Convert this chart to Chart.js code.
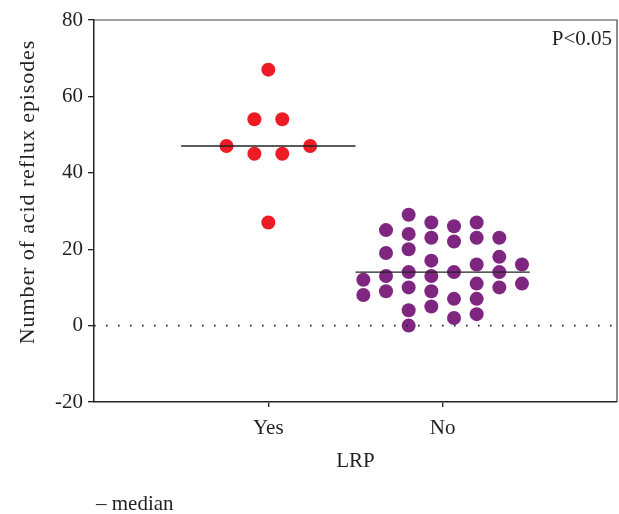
<!DOCTYPE html>
<html><head><meta charset="utf-8">
<script src="https://cdn.jsdelivr.net/npm/chart.js@4.4.0/dist/chart.umd.min.js"></script>
<style>html,body{margin:0;padding:0;background:#fff}#wrap{width:619px;height:514px}</style>
</head><body><div id="wrap"><canvas id="c" width="619" height="514"></canvas></div>
<script>
// ---- data ----
const categories = ['Yes', 'No'];
// values grouped into the swarm columns as they appear (left to right)
const yesColumns = [[47], [54, 45], [67, 27], [54, 45], [47]];
const noColumns = [[12, 8], [25, 19, 13, 9], [29, 24, 20, 14, 10, 4, 0], [27, 23, 17, 13, 9, 5],
                   [26, 22, 14, 7, 2], [27, 23, 16, 11, 7, 3], [23, 18, 14, 10], [16, 11]];
const medians = [47, 14];
const yTicks = [-20, 0, 20, 40, 60, 80];
const xTitle = 'LRP';
const yTitle = 'Number of acid reflux episodes';
const pText = 'P<0.05';
const legendText = '– median';

// ---- layout helpers (column offsets in x-axis units) ----
const yesOffsets = [-0.24, -0.08, 0, 0.08, 0.24];
const noStep = 0.13;
function swarm(cols, center, offsets) {
  const pts = [];
  cols.forEach((col, i) => col.forEach(v => pts.push({x: center + offsets[i], y: v})));
  return pts;
}
const noOffsets = noColumns.map((c, i) => (i - (noColumns.length - 1) / 2) * noStep);

const FONT = "'Liberation Serif', 'Times New Roman', serif";
const TXT = '#231f20';

const boxPlugin = {
  id: 'box',
  beforeDraw(chart) {
    const s = chart.scales.y;
    if (!s._lsWrapped) {
      const orig = s.drawTitle.bind(s);
      s.drawTitle = function () {
        const ctx = this.ctx;
        ctx.save();
        ctx.translate(0, -19);
        ctx.letterSpacing = '0.9px';
        orig();
        ctx.restore();
      };
      s._lsWrapped = true;
    }
  },
  afterDatasetsDraw(chart) {
    const {ctx, chartArea: a} = chart;
    ctx.save();
    ctx.strokeStyle = '#444';
    ctx.lineWidth = 1.2;
    ctx.beginPath();
    ctx.moveTo(a.left, a.top); ctx.lineTo(a.right, a.top); ctx.lineTo(a.right, a.bottom);
    ctx.stroke();
    ctx.fillStyle = TXT;
    ctx.font = '21px ' + FONT;
    ctx.textAlign = 'right'; ctx.textBaseline = 'middle';
    ctx.fillText(pText, a.right - 5, a.top + 19);
    ctx.textAlign = 'left'; ctx.textBaseline = 'alphabetic';
    ctx.fillText(legendText, 96, 510);
    ctx.restore();
  }
};

new Chart(document.getElementById('c'), {
  data: {
    datasets: [
      {type: 'line', data: [{x: 0, y: 0}, {x: 3, y: 0}], borderColor: '#222', borderWidth: 1.6,
       borderDash: [1.6, 10.4], pointRadius: 0, order: 0},
      {type: 'line', data: [{x: 0.5, y: medians[0]}, {x: 1.5, y: medians[0]}], borderColor: '#222',
       borderWidth: 1.4, pointRadius: 0, order: 0},
      {type: 'line', data: [{x: 1.5, y: medians[1]}, {x: 2.5, y: medians[1]}], borderColor: '#222',
       borderWidth: 1.4, pointRadius: 0, order: 0},
      {type: 'scatter', data: swarm(yesColumns, 1, yesOffsets), backgroundColor: '#ed1c24',
       borderWidth: 0, pointRadius: 7, order: 1},
      {type: 'scatter', data: swarm(noColumns, 2, noOffsets), backgroundColor: '#7e2680',
       borderWidth: 0, pointRadius: 7, order: 1}
    ]
  },
  options: {
    responsive: false, animation: false, devicePixelRatio: 1,
    layout: {autoPadding: false, padding: {top: 20, right: 2, left: 0, bottom: 39}},
    plugins: {legend: {display: false}, tooltip: {enabled: false}},
    scales: {
      x: {
        type: 'linear', min: 0, max: 3,
        afterBuildTicks: s => { s.ticks = categories.map((c, i) => ({value: i + 1})); },
        afterFit: s => { s.height = 73; },
        ticks: {callback: v => categories[v - 1] || '', color: TXT, font: {family: FONT, size: 21}, padding: 9, maxRotation: 0},
        grid: {drawOnChartArea: false, drawTicks: true, tickLength: 5, color: '#222', lineWidth: 1.3},
        border: {display: true, color: '#222', width: 1.5},
        title: {display: true, text: xTitle, color: TXT, font: {family: FONT, size: 21}, padding: {top: 0, bottom: 1}}
      },
      y: {
        type: 'linear', min: -20, max: 80,
        afterBuildTicks: s => { s.ticks = yTicks.map(v => ({value: v})); },
        afterFit: s => { s.width = 94; },
        ticks: {color: TXT, font: {family: FONT, size: 21}, padding: 5},
        grid: {drawOnChartArea: false, drawTicks: true, tickLength: 6, color: '#222', lineWidth: 1.3},
        border: {display: true, color: '#222', width: 1.5},
        title: {display: true, text: yTitle, color: TXT, font: {family: FONT, size: 22}, padding: {top: 15, bottom: 0}}
      }
    }
  },
  plugins: [boxPlugin]
});
</script>
</body></html>
